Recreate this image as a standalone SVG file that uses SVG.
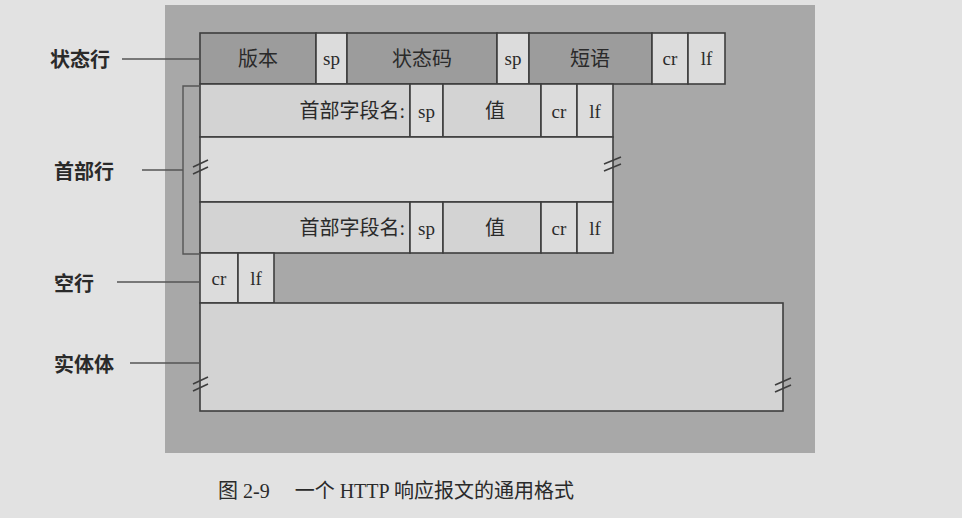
<svg xmlns="http://www.w3.org/2000/svg" width="962" height="518" viewBox="0 0 962 518">
<style>
.cell{stroke:#3e3e3e;stroke-width:1.6}
.dark{fill:#9c9c9c}
.light{fill:#dcdcdc}
.mid{fill:#d3d3d3}
.lbl{font-family:"Noto Sans CJK SC","Noto Sans",sans-serif;font-size:20px;font-weight:bold;fill:#2a2a2a}
.zh{font-family:"Liberation Serif","Noto Sans CJK SC",serif;font-size:20px;font-weight:normal;fill:#2a2a2a}
.en{font-family:"Liberation Serif",serif;font-size:19px;fill:#2a2a2a}
.cap{font-family:"Liberation Serif","Noto Sans CJK SC",serif;font-size:20px;fill:#2a2a2a}
.lead{stroke:#555;stroke-width:1.4;fill:none}
.brk{stroke:#3e3e3e;stroke-width:1.6;fill:none}
</style>
<rect x="0" y="0" width="962" height="518" fill="#e2e2e2"/>
<rect x="165" y="5" width="650" height="448" fill="#a8a8a8"/>

<g id="status-line">
<rect class="cell dark" x="200" y="33" width="116" height="51"/>
<rect class="cell light" x="316" y="33" width="31" height="51"/>
<rect class="cell dark" x="347" y="33" width="150" height="51"/>
<rect class="cell light" x="497" y="33" width="32" height="51"/>
<rect class="cell dark" x="529" y="33" width="123" height="51"/>
<rect class="cell light" x="652" y="33" width="36" height="51"/>
<rect class="cell light" x="688" y="33" width="37" height="51"/>
<text class="zh" x="258" y="66" text-anchor="middle">版本</text>
<text class="en" x="331.5" y="65" text-anchor="middle">sp</text>
<text class="zh" x="422" y="66" text-anchor="middle">状态码</text>
<text class="en" x="513" y="65" text-anchor="middle">sp</text>
<text class="zh" x="590" y="66" text-anchor="middle">短语</text>
<text class="en" x="670" y="65" text-anchor="middle">cr</text>
<text class="en" x="706.5" y="65" text-anchor="middle">lf</text>
</g>

<g id="header-line-1">
<rect class="cell mid" x="200" y="84" width="210" height="53"/>
<rect class="cell light" x="410" y="84" width="33" height="53"/>
<rect class="cell mid" x="443" y="84" width="98" height="53"/>
<rect class="cell light" x="541" y="84" width="36" height="53"/>
<rect class="cell light" x="577" y="84" width="36" height="53"/>
<text class="zh" x="405" y="118" text-anchor="end">首部字段名:</text>
<text class="en" x="426.5" y="118" text-anchor="middle">sp</text>
<text class="zh" x="495" y="118" text-anchor="middle">值</text>
<text class="en" x="559" y="118" text-anchor="middle">cr</text>
<text class="en" x="595" y="118" text-anchor="middle">lf</text>
</g>

<g id="header-gap">
<rect class="cell light" x="200" y="137" width="413" height="65"/>
<path class="brk" d="M193,167 L208,160 M193,174 L208,167"/>
<path class="brk" d="M604,164 L621,157 M604,171 L621,164"/>
</g>

<g id="header-line-2">
<rect class="cell mid" x="200" y="202" width="210" height="51"/>
<rect class="cell light" x="410" y="202" width="33" height="51"/>
<rect class="cell mid" x="443" y="202" width="98" height="51"/>
<rect class="cell light" x="541" y="202" width="36" height="51"/>
<rect class="cell light" x="577" y="202" width="36" height="51"/>
<text class="zh" x="405" y="235" text-anchor="end">首部字段名:</text>
<text class="en" x="426.5" y="235" text-anchor="middle">sp</text>
<text class="zh" x="495" y="235" text-anchor="middle">值</text>
<text class="en" x="559" y="235" text-anchor="middle">cr</text>
<text class="en" x="595" y="235" text-anchor="middle">lf</text>
</g>

<g id="blank-line">
<rect class="cell light" x="200" y="253" width="38" height="50"/>
<rect class="cell light" x="238" y="253" width="36" height="50"/>
<text class="en" x="219" y="285" text-anchor="middle">cr</text>
<text class="en" x="256" y="285" text-anchor="middle">lf</text>
</g>

<g id="entity-body">
<rect class="cell mid" x="200" y="303" width="583" height="108"/>
<path class="brk" d="M193,384 L208,377 M193,391 L208,384"/>
<path class="brk" d="M775,385 L791,378 M775,392 L791,385"/>
</g>

<g id="connectors">
<path class="lead" d="M122,59 H200"/>
<path class="lead" d="M200,86 H183 V254 H200"/>
<path class="lead" d="M142,170 H183"/>
<path class="lead" d="M117,282 H200"/>
<path class="lead" d="M130,363 H200"/>
</g>

<g id="labels">
<text class="lbl" x="50" y="67">状态行</text>
<text class="lbl" x="54" y="179">首部行</text>
<text class="lbl" x="54" y="291">空行</text>
<text class="lbl" x="54" y="372">实体体</text>
</g>

<text class="cap" x="218" y="498">图 2-9　 一个 HTTP 响应报文的通用格式</text>
</svg>
